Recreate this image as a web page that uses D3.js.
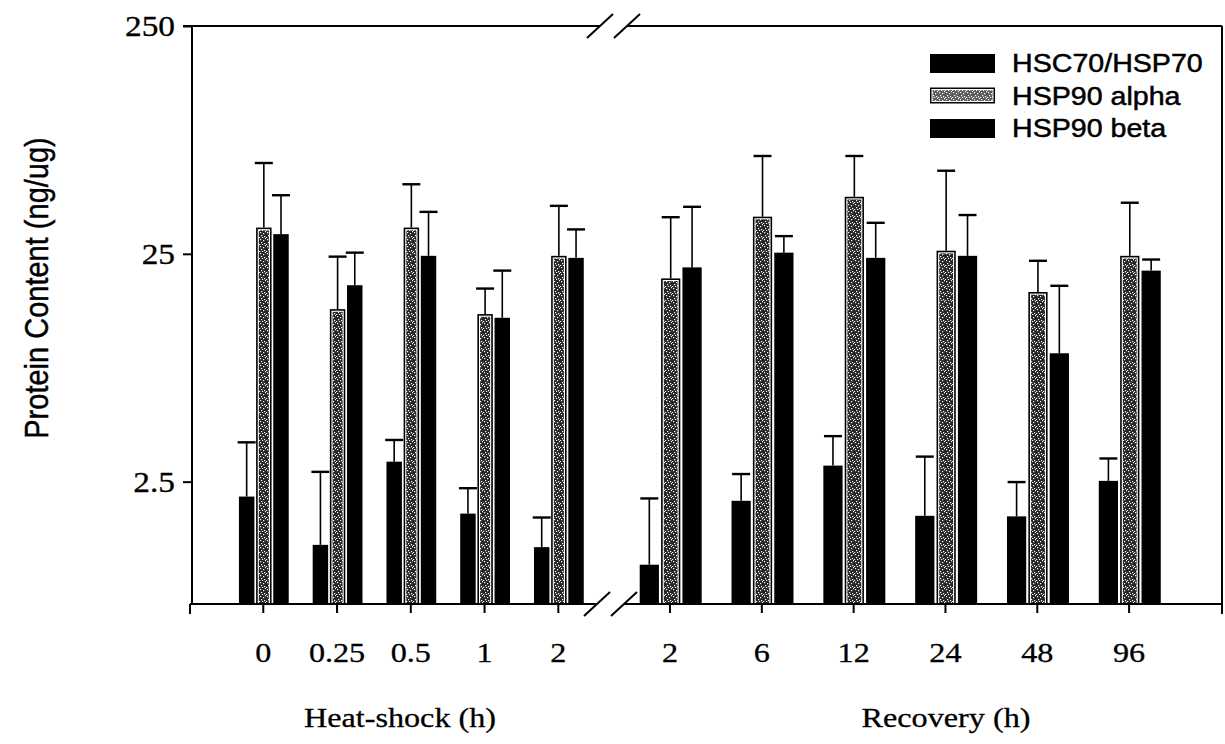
<!DOCTYPE html>
<html>
<head>
<meta charset="utf-8">
<script src="https://cdn.jsdelivr.net/npm/d3@7"></script>
<style>
  body { margin: 0; background: #fff; }
  svg { display: block; }
</style>
</head>
<body>
<svg id="chart" width="1225" height="744"></svg>
<script>
// ---- data ----
const series = ["HSC70/HSP70", "HSP90 alpha", "HSP90 beta"];
const heatTimes = ["0", "0.25", "0.5", "1", "2"];
const recoveryTimes = ["2", "6", "12", "24", "48", "96"];

// mean protein content (ng/ug) during heat-shock
const hscHeat   = [2.15, 1.32, 3.06, 1.81, 1.29];
const alphaHeat = [32.6, 14.3, 32.6, 13.6, 24.5];
const betaHeat  = [30.5, 18.2, 24.5, 13.1, 24.0];
// standard deviations during heat-shock
const hscHeatSD   = [1.57, 1.44, 0.75, 0.53, 0.45];
const alphaHeatSD = [30.0, 10.0, 17.9, 4.0, 16.1];
const betaHeatSD  = [14.7, 7.1, 13.7, 8.0, 8.0];

// mean protein content (ng/ug) during recovery
const hscRec   = [1.08, 2.06, 2.94, 1.77, 1.76, 2.52];
const alphaRec = [19.5, 36.4, 44.5, 25.8, 17.0, 24.5];
const betaRec  = [21.8, 25.3, 24.0, 24.5, 9.15, 21.1];
// standard deviations during recovery
const hscRecSD   = [1.03, 0.64, 1.02, 1.45, 0.73, 0.64];
const alphaRecSD = [16.7, 30.8, 22.7, 32.1, 6.3, 17.4];
const betaRecSD  = [18.4, 4.6, 10.2, 12.5, 8.95, 2.5];

const yTicks = [2.5, 25, 250];
const yTickLabels = ["2.5", "25", "250"];
const yMin = 0.726;
const yMax = 250;

// ---- layout ----
const svg = d3.select("#chart");
const SERIF = "'Liberation Serif', 'Times New Roman', serif";
const SANS = "'Liberation Sans', Arial, sans-serif";
const STRETCH = 1.15;

const plotLeft = 192, plotRight = 1222, plotTop = 26, plotBottom = 604;
const breakTop = [600, 627], breakBottom = [597, 624];

const y = d3.scaleLog().domain([yMin, yMax]).range([plotBottom, plotTop]);
const xHeat = d3.scaleBand().domain(heatTimes).range([226.4, 595.2]).paddingInner(0).paddingOuter(0);
const xRec = d3.scaleBand().domain(recoveryTimes).range([624.1, 1175]).paddingInner(0).paddingOuter(0);

// ---- stipple texture for HSP90 alpha ----
const defs = svg.append("defs");
const pat = defs.append("pattern").attr("id", "stipple")
  .attr("patternUnits", "userSpaceOnUse").attr("width", 7).attr("height", 7);
pat.append("rect").attr("width", 7).attr("height", 7).attr("fill", "#262626");
[[1, 1], [4, 2], [2, 4], [5, 5], [0, 6], [6, 0], [3, 6]].forEach(([px, py]) =>
  pat.append("rect").attr("x", px).attr("y", py).attr("width", 1.2).attr("height", 1.2).attr("fill", "#fff"));

function drawBar(g, x0, w, v, kind) {
  const top = y(v), h = plotBottom - top;
  if (kind === 1) {
    g.append("rect").attr("x", x0).attr("y", top).attr("width", w).attr("height", h).attr("fill", "#000");
    g.append("rect").attr("x", x0 + 1.6).attr("y", top + 1.6).attr("width", w - 3.2).attr("height", h - 1.6).attr("fill", "#fff");
    g.append("rect").attr("x", x0 + 2.7).attr("y", top + 2.7).attr("width", w - 5.4).attr("height", h - 2.7).attr("fill", "url(#stipple)");
  } else {
    g.append("rect").attr("x", x0).attr("y", top).attr("width", w).attr("height", h).attr("fill", "#000");
  }
}

function drawErr(g, cx, v, sd) {
  const y0 = y(v), y1 = y(v + sd);
  g.append("line").attr("x1", cx).attr("x2", cx).attr("y1", y0).attr("y2", y1)
    .attr("stroke", "#000").attr("stroke-width", 1.6);
  g.append("line").attr("x1", cx - 9).attr("x2", cx + 9).attr("y1", y1).attr("y2", y1)
    .attr("stroke", "#000").attr("stroke-width", 2.4);
}

function drawPanel(xScale, times, means, sds) {
  const step = xScale.step();
  const sub = d3.scaleBand().domain(d3.range(series.length))
    .range([0.17 * step, 0.845 * step]).paddingInner(0.1).paddingOuter(0);
  const g = svg.append("g");
  times.forEach((t, i) => {
    const gx = xScale(t);
    series.forEach((s, k) => {
      const x0 = gx + sub(k), w = sub.bandwidth();
      drawBar(g, x0, w, means[k][i], k);
    });
    series.forEach((s, k) => {
      const cx = gx + sub(k) + sub.bandwidth() / 2;
      drawErr(g, cx, means[k][i], sds[k][i]);
    });
  });
}

drawPanel(xHeat, heatTimes, [hscHeat, alphaHeat, betaHeat], [hscHeatSD, alphaHeatSD, betaHeatSD]);
drawPanel(xRec, recoveryTimes, [hscRec, alphaRec, betaRec], [hscRecSD, alphaRecSD, betaRecSD]);

// ---- frame with axis break ----
const frame = svg.append("g").attr("stroke", "#000").attr("stroke-width", 2).attr("fill", "none");
frame.append("line").attr("x1", plotLeft).attr("x2", plotLeft).attr("y1", plotTop).attr("y2", plotBottom + 1);
frame.append("line").attr("x1", plotRight).attr("x2", plotRight).attr("y1", plotTop).attr("y2", plotBottom + 10);
frame.append("line").attr("x1", 183).attr("x2", breakTop[0]).attr("y1", plotTop).attr("y2", plotTop);
frame.append("line").attr("x1", breakTop[1]).attr("x2", plotRight).attr("y1", plotTop).attr("y2", plotTop);
frame.append("line").attr("x1", 190).attr("x2", breakBottom[0]).attr("y1", plotBottom).attr("y2", plotBottom);
frame.append("line").attr("x1", breakBottom[1]).attr("x2", plotRight).attr("y1", plotBottom).attr("y2", plotBottom);
frame.append("line").attr("x1", 190).attr("x2", 190).attr("y1", plotBottom).attr("y2", plotBottom + 10);
[[breakTop, plotTop], [breakBottom, plotBottom]].forEach(([xs, yy]) => {
  xs.forEach(cx => {
    frame.append("line").attr("x1", cx - 13).attr("y1", yy + 12).attr("x2", cx + 13).attr("y2", yy - 12);
  });
});

// ---- y axis (log) ----
const yAxis = svg.append("g").attr("transform", `translate(${plotLeft},0)`)
  .call(d3.axisLeft(y).tickValues(yTicks).tickFormat((d, i) => yTickLabels[i]).tickSize(9).tickPadding(8));
yAxis.select(".domain").remove();
yAxis.selectAll("line").attr("stroke-width", 2);
yAxis.selectAll("text")
  .attr("font-family", SERIF).attr("font-size", 29).attr("fill", "#000")
  .attr("stroke", "#000").attr("stroke-width", 0.3)
  .attr("x", null).attr("dy", "0.34em")
  .attr("transform", `translate(-17,0) scale(${STRETCH},1)`);

// ---- x axes ----
function xAxis(scale) {
  const g = svg.append("g").attr("transform", `translate(0,${plotBottom})`)
    .call(d3.axisBottom(scale).tickSize(9).tickSizeOuter(0).tickPadding(29));
  g.select(".domain").remove();
  g.selectAll("line").attr("stroke-width", 2);
  g.selectAll("text").attr("font-family", SERIF).attr("font-size", 28).attr("fill", "#000")
    .attr("stroke", "#000").attr("stroke-width", 0.3)
    .attr("transform", `scale(${STRETCH},1)`);
}
xAxis(xHeat);
xAxis(xRec);

// ---- axis titles ----
svg.append("text").attr("transform", `translate(400,727) scale(${STRETCH},1)`)
  .attr("text-anchor", "middle").attr("font-family", SERIF).attr("font-size", 28)
  .attr("stroke", "#000").attr("stroke-width", 0.3)
  .text("Heat-shock (h)");
svg.append("text").attr("transform", `translate(946,727) scale(${STRETCH},1)`)
  .attr("text-anchor", "middle").attr("font-family", SERIF).attr("font-size", 28)
  .attr("stroke", "#000").attr("stroke-width", 0.3)
  .text("Recovery (h)");
svg.append("text").attr("transform", `translate(48,288) scale(${STRETCH},1) rotate(-90)`)
  .attr("text-anchor", "middle").attr("font-family", SANS).attr("font-size", 29)
  .attr("stroke", "#000").attr("stroke-width", 0.4)
  .text("Protein Content (ng/ug)");

// ---- legend ----
const legend = svg.append("g");
const legendRowY = d3.scalePoint().domain(series).range([63, 128]);
series.forEach((s, k) => {
  const cy = legendRowY(s);
  const row = legend.append("g");
  if (k === 1) {
    row.append("rect").attr("x", 930).attr("y", cy - 8).attr("width", 65).attr("height", 16).attr("fill", "#000");
    row.append("rect").attr("x", 931.5).attr("y", cy - 6.5).attr("width", 62).attr("height", 13).attr("fill", "#fff");
    row.append("rect").attr("x", 932.5).attr("y", cy - 5.5).attr("width", 60).attr("height", 11).attr("fill", "url(#stipple)").attr("opacity", 0.75);
  } else {
    row.append("rect").attr("x", 930).attr("y", cy - 9).attr("width", 65).attr("height", 19).attr("fill", "#000");
  }
  row.append("text").attr("transform", `translate(1012,${cy}) scale(1.1,1)`)
    .attr("dy", "0.36em").attr("font-family", SANS).attr("font-size", 26).attr("fill", "#000")
    .attr("stroke", "#000").attr("stroke-width", 0.5)
    .text(s);
});
</script>
</body>
</html>
